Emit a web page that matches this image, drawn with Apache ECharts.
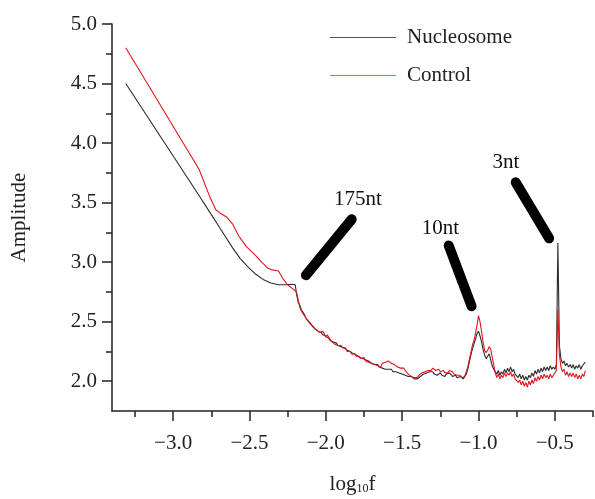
<!DOCTYPE html>
<html>
<head>
    <meta charset="utf-8">
</head>
<body style="margin: 0; background: #fff">
<div id="container" style="width: 595px; height: 499px"></div>
<script type="text/javascript" src="https://cdn.jsdelivr.net/npm/echarts@6/dist/echarts.min.js"></script>
<script type="text/javascript">
    var dom = document.getElementById("container");
    var myChart = echarts.init(dom);
    var FONT = 'Liberation Serif';

    // smooth low-frequency part (x, y)
    var nucHeadX = [-3.31, -2.83, -2.76, -2.71, -2.66, -2.61, -2.56, -2.51, -2.46, -2.41, -2.36, -2.31, -2.26, -2.22, -2.20];
    var nucHeadY = [4.50, 3.56, 3.42, 3.32, 3.22, 3.12, 3.03, 2.96, 2.90, 2.855, 2.825, 2.81, 2.81, 2.815, 2.81];
    var ctrlHeadX = [-3.31, -2.83, -2.76, -2.72, -2.69, -2.65, -2.61, -2.57, -2.52, -2.47, -2.42, -2.38, -2.35, -2.31, -2.28, -2.25, -2.22, -2.20];
    var ctrlHeadY = [4.80, 3.78, 3.55, 3.44, 3.41, 3.38, 3.32, 3.22, 3.13, 3.07, 3.00, 2.95, 2.935, 2.925, 2.86, 2.81, 2.78, 2.76];

    // noisy part, one value every 0.01 from -2.19 to -0.30
    var tailStart = -2.19;
    var tailStep = 0.01;
    var nucTail = [
        2.72, 2.66, 2.64, 2.60, 2.58, 2.56, 2.53, 2.52, 2.50, 2.49,
        2.47, 2.46, 2.44, 2.44, 2.42, 2.41, 2.41, 2.39, 2.38, 2.38,
        2.37, 2.36, 2.34, 2.34, 2.33, 2.32, 2.32, 2.30, 2.30, 2.29,
        2.28, 2.28, 2.27, 2.26, 2.25, 2.25, 2.24, 2.23, 2.22, 2.22,
        2.21, 2.20, 2.20, 2.19, 2.18, 2.18, 2.17, 2.17, 2.16, 2.15,
        2.15, 2.14, 2.13, 2.14, 2.12, 2.12, 2.11, 2.11, 2.10, 2.11,
        2.10, 2.09, 2.10, 2.08, 2.09, 2.08, 2.07, 2.07, 2.06, 2.06,
        2.05, 2.05, 2.04, 2.04, 2.03, 2.04, 2.03, 2.02, 2.03, 2.02,
        2.03, 2.04, 2.05, 2.06, 2.05, 2.07, 2.06, 2.08, 2.07, 2.08,
        2.06, 2.07, 2.05, 2.06, 2.07, 2.05, 2.06, 2.04, 2.06, 2.05,
        2.07, 2.06, 2.04, 2.03, 2.05, 2.03, 2.02, 2.04, 2.03, 2.02,
        2.03, 2.06, 2.10, 2.16, 2.22, 2.27, 2.31, 2.35, 2.40, 2.42,
        2.38, 2.33, 2.27, 2.22, 2.19, 2.21, 2.23, 2.18, 2.13, 2.10,
        2.10, 2.06, 2.09, 2.05, 2.08, 2.06, 2.10, 2.07, 2.11, 2.08,
        2.12, 2.08, 2.10, 2.06, 2.07, 2.03, 2.06, 2.02, 2.05, 2.01,
        2.04, 2.01, 2.05, 2.03, 2.07, 2.04, 2.09, 2.06, 2.10, 2.07,
        2.11, 2.08, 2.12, 2.09, 2.12, 2.09, 2.13, 2.10, 2.12, 2.10,
        2.14, 3.16, 2.30, 2.19, 2.15, 2.17, 2.13, 2.15, 2.12, 2.14,
        2.11, 2.14, 2.10, 2.13, 2.11, 2.14, 2.10, 2.13, 2.12, 2.16
    ];
    var ctrlTail = [
        2.74, 2.68, 2.62, 2.59, 2.58, 2.55, 2.54, 2.51, 2.50, 2.48,
        2.47, 2.45, 2.45, 2.43, 2.42, 2.41, 2.40, 2.42, 2.40, 2.37,
        2.39, 2.37, 2.35, 2.33, 2.33, 2.31, 2.32, 2.30, 2.29, 2.30,
        2.28, 2.27, 2.28, 2.25, 2.24, 2.25, 2.23, 2.22, 2.23, 2.21,
        2.20, 2.21, 2.19, 2.19, 2.20, 2.17, 2.18, 2.16, 2.17, 2.15,
        2.16, 2.14, 2.15, 2.13, 2.14, 2.12, 2.15, 2.14, 2.16, 2.15,
        2.17, 2.16, 2.15, 2.16, 2.14, 2.13, 2.12, 2.13, 2.11, 2.10,
        2.11, 2.09, 2.08, 2.06, 2.05, 2.04, 2.05, 2.03, 2.04, 2.03,
        2.05, 2.06, 2.07, 2.06, 2.08, 2.07, 2.09, 2.10, 2.09, 2.11,
        2.10, 2.09, 2.08, 2.10, 2.08, 2.07, 2.09, 2.07, 2.08, 2.07,
        2.09, 2.10, 2.08, 2.06, 2.07, 2.05, 2.04, 2.05, 2.03, 2.04,
        2.04, 2.08, 2.12, 2.18, 2.24, 2.30, 2.34, 2.40, 2.47, 2.55,
        2.50, 2.42, 2.33, 2.26, 2.24, 2.26, 2.29, 2.27, 2.20, 2.14,
        2.07, 2.03, 2.06, 2.02, 2.05, 2.03, 2.07, 2.04, 2.07, 2.05,
        2.08, 2.04, 2.06, 2.02, 2.03, 1.99, 2.01, 1.97, 2.00, 1.96,
        1.99, 1.95, 2.00, 1.97, 2.01, 1.98, 2.03, 2.00, 2.04, 2.01,
        2.05, 2.02, 2.06, 2.03, 2.05, 2.02, 2.06, 2.03, 2.05, 2.04,
        2.09, 2.60, 2.22, 2.12, 2.08, 2.10, 2.05, 2.08, 2.04, 2.07,
        2.04, 2.07, 2.03, 2.06, 2.02, 2.05, 2.02, 2.06, 2.04, 2.09
    ];

    var xMajor = [-3.0, -2.5, -2.0, -1.5, -1.0, -0.5];
    var xMinor = [-3.25, -2.75, -2.25, -1.75, -1.25, -0.75, -0.25];
    var yMajor = [2.0, 2.5, 3.0, 3.5, 4.0, 4.5, 5.0];
    var yMinor = [2.25, 2.75, 3.25, 3.75, 4.25, 4.75];

    // annotation pointers: [from, to] in data units, and their labels
    var annoLines = [
        [[-1.83, 3.36], [-2.13, 2.89]],
        [[-1.195, 3.14], [-1.045, 2.63]],
        [[-0.756, 3.67], [-0.537, 3.20]]
    ];
    var annoText = ['175nt', '10nt', '3nt'];
    var annoTextPos = [[-1.79, 3.53], [-1.25, 3.28], [-0.82, 3.84]];

    function buildData(hx, hy, tail) {
        var out = [];
        for (var i = 0; i < hx.length; i++) out.push([hx[i], hy[i]]);
        for (var j = 0; j < tail.length; j++) {
            out.push([+(tailStart + j * tailStep).toFixed(2), tail[j]]);
        }
        return out;
    }

    function fmt(v) {
        return (v < 0 ? '\u2212' : '') + Math.abs(v).toFixed(1);
    }

    var axisColor = '#222';
    var labelStyle = {fontSize: 21, fontFamily: FONT, color: '#222'};

    var option = {
        animation: false,
        grid: {left: 112, right: 2, top: 24, bottom: 88, outerBoundsMode: 'none', containLabel: false},
        legend: {
            orient: 'vertical',
            left: 325,
            top: 22,
            icon: 'rect',
            itemWidth: 66,
            itemHeight: 1.2,
            itemGap: 17,
            textStyle: {fontSize: 21, fontFamily: FONT, color: '#222', padding: [0, 0, 0, 6]},
            data: ['Nucleosome', 'Control']
        },
        xAxis: [{
            type: 'value',
            position: 'bottom',
            min: -3.4,
            max: -0.25,
            axisLine: {onZero: false, lineStyle: {color: axisColor, width: 1.5}},
            axisTick: {length: 10, customValues: xMajor, lineStyle: {color: axisColor, width: 1.5}},
            axisLabel: Object.assign({customValues: xMajor, formatter: fmt, margin: 22}, labelStyle),
            splitLine: {show: false},
            name: 'log{s|10}f',
            nameLocation: 'middle',
            nameGap: 62,
            nameTextStyle: {
                fontSize: 21, fontFamily: FONT, color: '#222',
                rich: {s: {fontSize: 12, fontFamily: FONT, color: '#222', padding: [10, 0, 0, 0]}}
            }
        }, {
            type: 'value',
            position: 'bottom',
            min: -3.4,
            max: -0.25,
            axisLine: {show: false, onZero: false},
            axisTick: {length: 6, customValues: xMinor, lineStyle: {color: axisColor, width: 1.5}},
            axisLabel: {show: false},
            splitLine: {show: false}
        }],
        yAxis: [{
            type: 'value',
            position: 'left',
            min: 1.75,
            max: 5.0,
            axisLine: {show: true, onZero: false, lineStyle: {color: axisColor, width: 1.5}},
            axisTick: {show: true, length: 10, customValues: yMajor, lineStyle: {color: axisColor, width: 1.5}},
            axisLabel: Object.assign({customValues: yMajor, formatter: fmt, margin: 15}, labelStyle),
            splitLine: {show: false},
            name: 'Amplitude',
            nameLocation: 'middle',
            nameGap: 82,
            nameTextStyle: {fontSize: 21, fontFamily: FONT, color: '#222'}
        }, {
            type: 'value',
            position: 'left',
            min: 1.75,
            max: 5.0,
            axisLine: {show: false, onZero: false},
            axisTick: {show: true, length: 6, customValues: yMinor, lineStyle: {color: axisColor, width: 1.5}},
            axisLabel: {show: false},
            splitLine: {show: false}
        }],
        series: [{
            name: 'Nucleosome',
            type: 'line',
            symbol: 'none',
            data: buildData(nucHeadX, nucHeadY, nucTail),
            lineStyle: {color: '#2b2b2b', width: 1.1},
            itemStyle: {color: '#555'}
        }, {
            name: 'Control',
            type: 'line',
            symbol: 'none',
            data: buildData(ctrlHeadX, ctrlHeadY, ctrlTail),
            lineStyle: {color: '#e3141c', width: 1.1},
            itemStyle: {color: '#e8606a'},
            markLine: {
                silent: true,
                symbol: ['none', 'none'],
                label: {show: false},
                lineStyle: {color: '#000', width: 10, type: 'solid', cap: 'round'},
                data: annoLines.map(function (l) {
                    return [{coord: l[0]}, {coord: l[1]}];
                })
            },
            markPoint: {
                silent: true,
                symbol: 'rect',
                symbolSize: 1,
                itemStyle: {color: 'rgba(0,0,0,0)'},
                label: {
                    show: true, position: 'inside', fontSize: 21, fontFamily: FONT, color: '#111',
                    formatter: function (p) { return p.name; }
                },
                data: annoText.map(function (t, i) {
                    return {name: t, coord: annoTextPos[i]};
                })
            }
        }]
    };

    myChart.setOption(option);
</script>
</body>
</html>
